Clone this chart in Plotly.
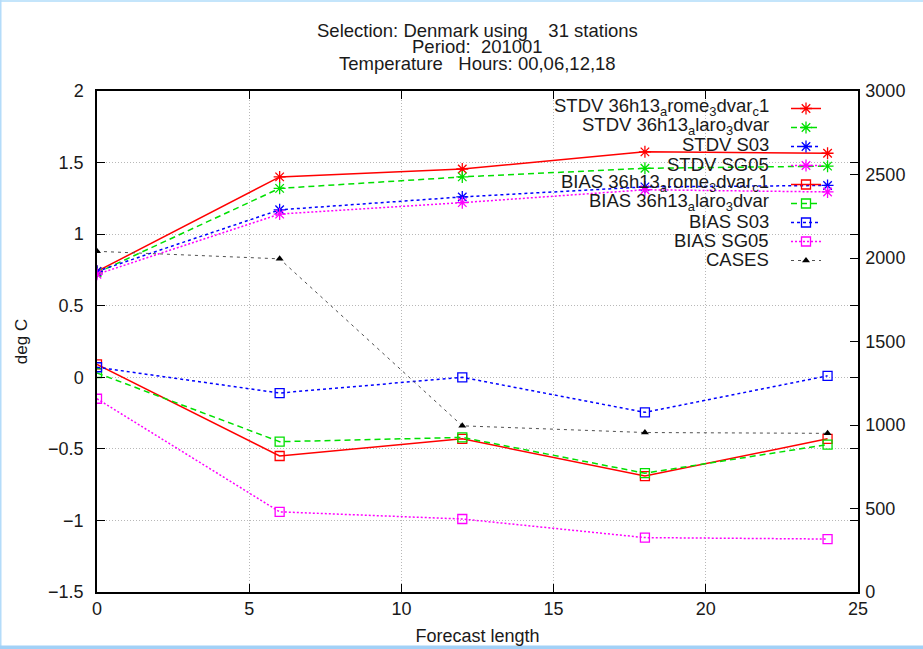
import plotly.graph_objects as go

# ---- data ----
forecast_length = [0, 6, 12, 18, 24]

stdv_arome = [0.74, 1.40, 1.455, 1.575, 1.565]
stdv_alaro = [0.73, 1.32, 1.40, 1.46, 1.475]
stdv_s03 = [0.74, 1.17, 1.26, 1.33, 1.34]
stdv_sg05 = [0.72, 1.14, 1.22, 1.31, 1.295]

bias_arome = [0.09, -0.55, -0.43, -0.69, -0.43]
bias_alaro = [0.03, -0.45, -0.42, -0.67, -0.47]
bias_s03 = [0.07, -0.11, 0.00, -0.245, 0.01]
bias_sg05 = [-0.15, -0.94, -0.99, -1.12, -1.13]

cases = [2040, 1995, 995, 955, 950]

series_labels = [
    "STDV 36h13<sub>a</sub>rome<sub>3</sub>dvar<sub>c</sub>1",
    "STDV 36h13<sub>a</sub>laro<sub>3</sub>dvar",
    "STDV S03",
    "STDV SG05",
    "BIAS 36h13<sub>a</sub>rome<sub>3</sub>dvar<sub>c</sub>1",
    "BIAS 36h13<sub>a</sub>laro<sub>3</sub>dvar",
    "BIAS S03",
    "BIAS SG05",
    "CASES",
]

title_lines = [
    "Selection: Denmark using    31 stations",
    "Period:  201001",
    "Temperature   Hours: 00,06,12,18",
]

FONT = "Liberation Sans, Arial, sans-serif"
TXT = "#1a1a1a"
RED, GREEN, BLUE, MAGENTA = "#ff0000", "#00e000", "#0000ff", "#ff00ff"

styles = [
    (stdv_arome, RED, "solid", "asterisk-open", 10, "y"),
    (stdv_alaro, GREEN, "6px,4px", "asterisk-open", 10, "y"),
    (stdv_s03, BLUE, "3px,3px", "asterisk-open", 10, "y"),
    (stdv_sg05, MAGENTA, "2px,2px", "asterisk-open", 10, "y"),
    (bias_arome, RED, "solid", "square-open", 9, "y"),
    (bias_alaro, GREEN, "6px,4px", "square-open", 9, "y"),
    (bias_s03, BLUE, "3px,3px", "square-open", 9, "y"),
    (bias_sg05, MAGENTA, "2px,2px", "square-open", 9, "y"),
]

fig = go.Figure()
for (y, color, dash, symbol, msize, ax), label in zip(styles, series_labels):
    fig.add_trace(go.Scatter(
        x=forecast_length, y=y, name=" ", legendgroup=label, mode="lines+markers",
        line=dict(color=color, width=1.5, dash=dash),
        marker=dict(symbol=symbol, size=msize, color=color,
                    line=dict(color=color, width=1.3)),
        yaxis=ax, hovertemplate=label + ": %{y}<extra></extra>",
    ))

fig.add_trace(go.Scatter(
    x=forecast_length, y=cases, name=" ", legendgroup="CASES", mode="lines+markers",
    line=dict(color="#505050", width=1, dash="3px,4px"),
    marker=dict(symbol="triangle-up", size=7, color="black"),
    yaxis="y2", hovertemplate="CASES: %{y}<extra></extra>",
))

W, H = 923, 649
L, R, T, B = 97, 65, 91, 57
pw, ph = W - L - R, H - T - B

def px_x(x):
    return (x - L) / pw

def px_y(y):
    return 1 - (y - T) / ph

ROW0, ROWH = 107, 19

shapes = [
    # opaque key box: hides the grid but not the data (gnuplot style)
    dict(type="rect", xref="paper", yref="paper", layer="between",
         x0=px_x(488), x1=1, y0=px_y(ROW0 + ROWH * 8 + 8), y1=1,
         fillcolor="white", line=dict(width=0)),
    # light-blue page border
    dict(type="rect", xref="paper", yref="paper", layer="above",
         x0=px_x(0), x1=px_x(W), y0=px_y(2), y1=px_y(0),
         fillcolor="#c4e5fb", line=dict(width=0)),
    dict(type="rect", xref="paper", yref="paper", layer="above",
         x0=px_x(0), x1=px_x(1.5), y0=px_y(H), y1=px_y(0),
         fillcolor="#b4dcfa", line=dict(width=0)),
    dict(type="rect", xref="paper", yref="paper", layer="above",
         x0=px_x(0), x1=px_x(W), y0=px_y(H), y1=px_y(H - 3.5),
         fillcolor="#a2d1f7", line=dict(width=0)),
]

annotations = []
# title: three tightly spaced lines
for i, line in enumerate(title_lines):
    annotations.append(dict(
        text=line, xref="paper", yref="paper", x=0.5, y=px_y(30 + 17 * i),
        xanchor="center", yanchor="middle", showarrow=False,
        font=dict(family=FONT, size=18.5, color=TXT),
    ))

# key texts, right-justified to the left of the key samples (gnuplot style)
for i, label in enumerate(series_labels):
    annotations.append(dict(
        text=label, xref="paper", yref="paper", x=px_x(771), y=px_y(ROW0 + ROWH * i),
        xanchor="right", yanchor="middle", showarrow=False,
        font=dict(family=FONT, size=18.5, color=TXT),
    ))

fig.update_layout(
    width=W, height=H,
    margin=dict(l=L, r=R, t=T, b=B, autoexpand=False),
    paper_bgcolor="white", plot_bgcolor="white",
    font=dict(family=FONT, size=18, color=TXT),
    showlegend=True,
    legend=dict(x=px_x(786), xanchor="left", y=px_y(ROW0 - 13), yanchor="top",
                bgcolor="rgba(0,0,0,0)", font=dict(size=10, color=TXT),
                tracegroupgap=0, itemwidth=30, itemclick=False, itemdoubleclick=False),
    xaxis=dict(range=[0, 25], dtick=5, showline=True, linecolor="black", linewidth=1.5,
               mirror="ticks", ticks="inside", ticklen=8, tickcolor="black",
               showgrid=True, gridcolor="#b8b8b8", griddash="1px,2px", gridwidth=1,
               zeroline=False, automargin=False,
               title=dict(text="Forecast length", standoff=11,
                          font=dict(family=FONT, size=18, color=TXT))),
    yaxis=dict(range=[-1.5, 2], dtick=0.5, showline=True, linecolor="black", linewidth=1.5,
               mirror="ticks", ticks="inside", ticklen=8, tickcolor="black",
               showgrid=True, gridcolor="#b8b8b8", griddash="1px,2px", gridwidth=1,
               zeroline=False, automargin=False, ticklabelstandoff=8,
               title=dict(text="deg C", standoff=16,
                          font=dict(family=FONT, size=17, color=TXT))),
    yaxis2=dict(range=[0, 3000], dtick=500, overlaying="y", side="right",
                showline=True, linecolor="black", linewidth=1.5,
                ticks="inside", ticklen=8, tickcolor="black", automargin=False,
                showgrid=False, zeroline=False, ticklabelstandoff=2),
    shapes=shapes,
    annotations=annotations,
)

fig.write_html("out.html", config={"displayModeBar": False},
               post_script="document.body.style.margin='0px';")
